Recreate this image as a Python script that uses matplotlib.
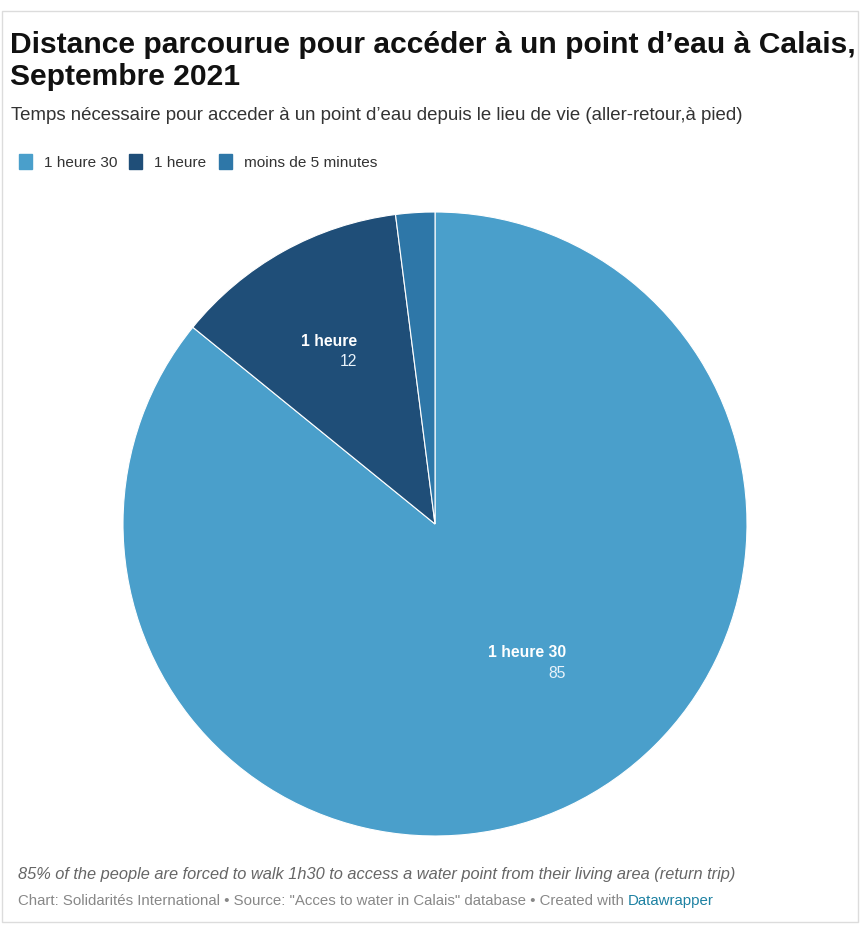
import matplotlib
matplotlib.use("Agg")
import matplotlib.pyplot as plt
from matplotlib.patches import Rectangle
import numpy as np

plt.rcParams['font.family'] = ['Liberation Sans', 'DejaVu Sans']

categories = ["1 heure 30", "1 heure", "moins de 5 minutes"]
values = [85, 12, 2]
colors = ["#4a9fcb", "#1f4e78", "#2e77a8"]
show_label = [True, True, False]

W, H = 862, 926
fig = plt.figure(figsize=(W/100, H/100), dpi=100)
fig.patch.set_facecolor("white")

def fx(x): return x / W
def fy(y): return 1 - y / H

# border
fig.patches.append(Rectangle((fx(2), fy(922)), fx(858) - fx(2), fy(11) - fy(922),
                             transform=fig.transFigure, fill=False,
                             edgecolor="#dcdcdc", linewidth=1.0))

# titles
fig.text(fx(10), fy(53), "Distance parcourue pour accéder à un point d’eau à Calais,",
         fontsize=21.6, fontweight="bold", color="#111111", va="baseline")
fig.text(fx(10), fy(85), "Septembre 2021",
         fontsize=21.6, fontweight="bold", color="#111111", va="baseline")
fig.text(fx(11), fy(120), "Temps nécessaire pour acceder à un point d’eau depuis le lieu de vie (aller-retour,à pied)",
         fontsize=13.4, color="#333333", va="baseline")

# legend
lx = 19
r = fig.canvas.get_renderer()
for cat, col in zip(categories, colors):
    fig.patches.append(Rectangle((fx(lx), fy(169)), fx(13), 15 / H,
                                 transform=fig.transFigure, color=col))
    t = fig.text(fx(lx + 25), fy(167), cat, fontsize=11.1, color="#333333", va="baseline")
    bb = t.get_window_extent(renderer=r)
    lx = lx + 25 + bb.width + 12

# pie
cx, cy, R = 435, 524, 312
ax = fig.add_axes([fx(cx - R), fy(cy + R), 2 * R / W, 2 * R / H])
wedges, _ = ax.pie(values, colors=colors, startangle=90, counterclock=False,
                   wedgeprops=dict(edgecolor="white", linewidth=0.8))
ax.set_xlim(-1, 1)
ax.set_ylim(-1, 1)
ax.set_aspect("equal")
ax.axis("off")

label_pos = [(0.42, -0.427), (-0.25, 0.57)]
for i, (cat, v) in enumerate(zip(categories, values)):
    if not show_label[i]:
        continue
    x, y = label_pos[i]
    ax.text(x, y, cat, ha="right", va="baseline", fontsize=11.3, fontweight="bold", color="white")
    ax.text(x, y - 0.065, str(v), ha="right", va="baseline", fontsize=11.3, color="#e8f2fa")

# footer
fig.text(fx(18), fy(879), "85% of the people are forced to walk 1h30 to access a water point from their living area (return trip)",
         fontsize=11.8, style="italic", color="#666666", va="baseline")
t1 = fig.text(fx(18), fy(905), "Chart: Solidarités International • Source: \"Acces to water in Calais\" database • Created with ",
              fontsize=10.85, color="#888888", va="baseline")
bb = t1.get_window_extent(renderer=r)
fig.text(bb.x1 / W, fy(905), "Datawrapper", fontsize=10.85, color="#1d81a2", va="baseline")

fig.savefig("out.png", dpi=100, facecolor="white")
